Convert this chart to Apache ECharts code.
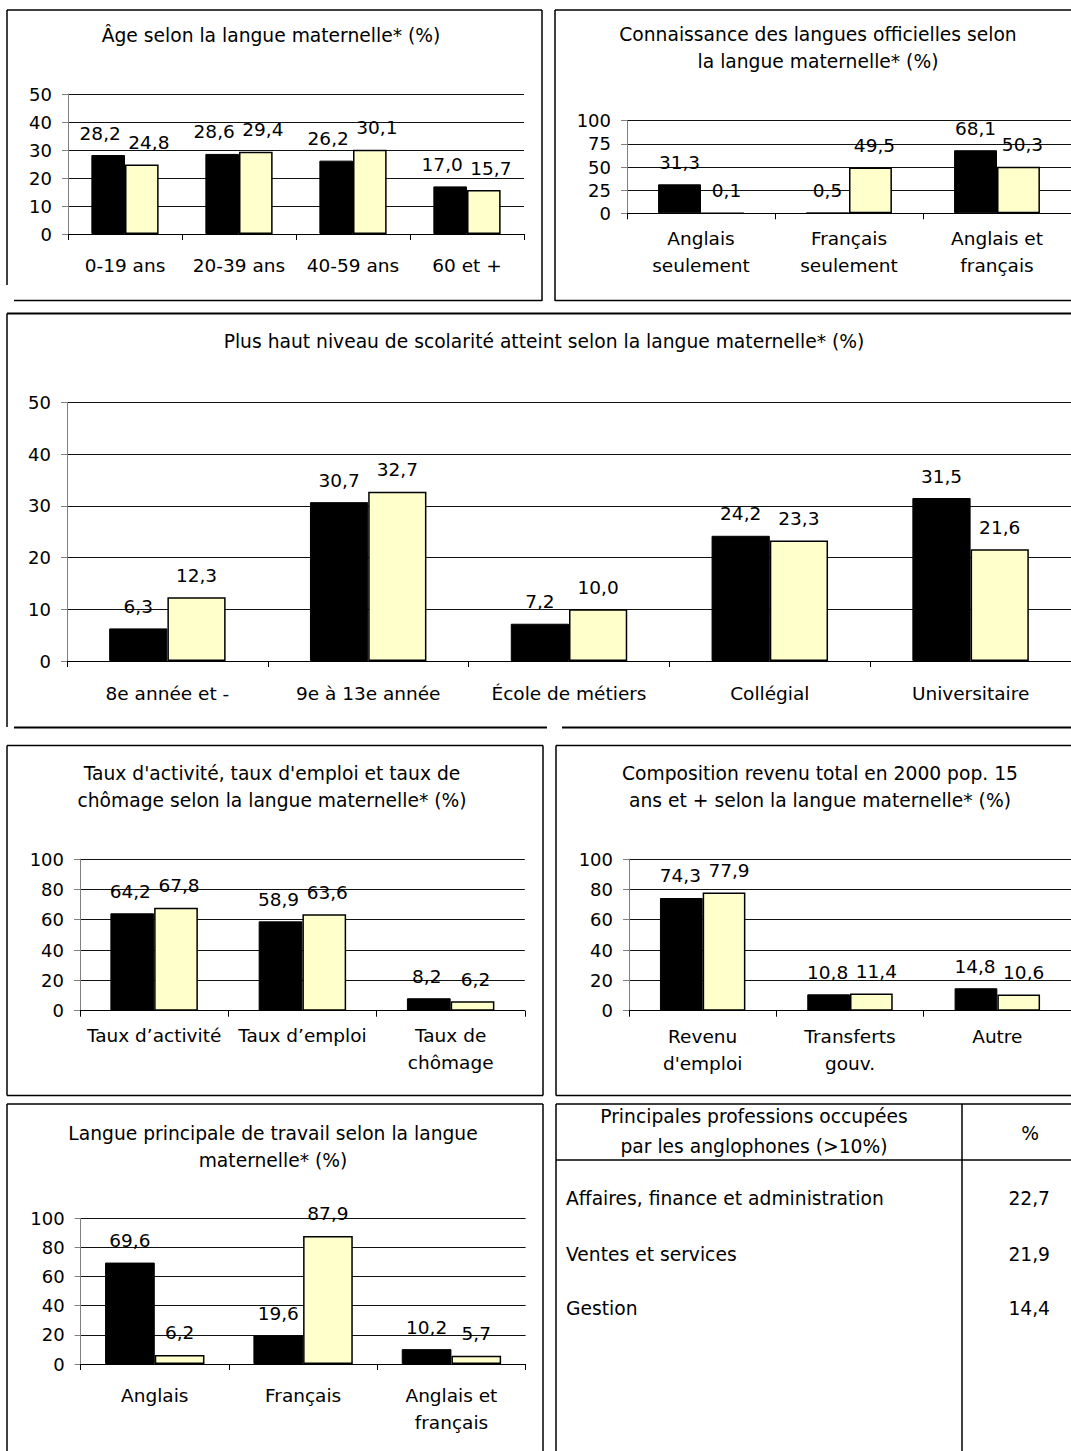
<!DOCTYPE html>
<html>
<head>
<meta charset="utf-8">
<script src="https://cdn.jsdelivr.net/npm/echarts@6/dist/echarts.min.js"></script>
<style>
html,body{margin:0;padding:0;background:#fff;}
#c{width:1071px;height:1451px;}
</style>
</head>
<body>
<div id="c"></div>
<script>
// ---------- DATA ----------
const ageTitle = ['Âge selon la langue maternelle* (%)'];
const ageCategories = ['0-19 ans', '20-39 ans', '40-59 ans', '60 et +'];
const ageAnglo = [28.2, 28.6, 26.2, 17.0];
const ageFranco = [24.8, 29.4, 30.1, 15.7];

const knowTitle = ['Connaissance des langues officielles selon', 'la langue maternelle* (%)'];
const knowCategories = ['Anglais\nseulement', 'Français\nseulement', 'Anglais et\nfrançais'];
const knowAnglo = [31.3, 0.5, 68.1];
const knowFranco = [0.1, 49.5, 50.3];

const eduTitle = ['Plus haut niveau de scolarité atteint selon la langue maternelle* (%)'];
const eduCategories = ['8e année et -', '9e à 13e année', 'École de métiers', 'Collégial', 'Universitaire'];
const eduAnglo = [6.3, 30.7, 7.2, 24.2, 31.5];
const eduFranco = [12.3, 32.7, 10.0, 23.3, 21.6];

const actTitle = ["Taux d'activité, taux d'emploi et taux de", "chômage selon la langue maternelle* (%)"];
const actCategories = ['Taux d’activité', 'Taux d’emploi', 'Taux de\nchômage'];
const actAnglo = [64.2, 58.9, 8.2];
const actFranco = [67.8, 63.6, 6.2];

const incTitle = ['Composition revenu total en 2000 pop. 15', 'ans et + selon la langue maternelle* (%)'];
const incCategories = ["Revenu\nd'emploi", 'Transferts\ngouv.', 'Autre'];
const incAnglo = [74.3, 10.8, 14.8];
const incFranco = [77.9, 11.4, 10.6];

const workTitle = ['Langue principale de travail selon la langue', 'maternelle* (%)'];
const workCategories = ['Anglais', 'Français', 'Anglais et\nfrançais'];
const workAnglo = [69.6, 19.6, 10.2];
const workFranco = [6.2, 87.9, 5.7];

const tableHeader = ['Principales professions occupées\npar les anglophones (>10%)', '%'];
const tableRows = ['Affaires, finance et administration', 'Ventes et services', 'Gestion'];
const tableValues = [22.7, 21.9, 14.4];

// ---------- LAYOUT ----------
const FONT = '"DejaVu Sans", sans-serif';
const fmt = v => v.toFixed(1).replace('.', ',');

const panels = [
  {title: ageTitle, tx: 271, ty: 35.5, cats: ageCategories, a: ageAnglo, f: ageFranco, max: 50, interval: 10,
   grid: {left: 68, top: 94, width: 456, height: 140}, gap: '41%', margin: 17.5, off: [-8, 7]},
  {title: knowTitle, tx: 818, ty: 48.3, cats: knowCategories, a: knowAnglo, f: knowFranco, max: 100, interval: 25,
   grid: {left: 627, top: 120.7, width: 444, height: 92.6}, gap: '42%', margin: 11.5, off: [0, 4]},
  {title: eduTitle, tx: 544, ty: 341.7, cats: eduCategories, a: eduAnglo, f: eduFranco, max: 50, interval: 10,
   grid: {left: 67, top: 402.3, width: 1004, height: 258.7}, gap: '42%', margin: 18.8, off: [0, 0]},
  {title: actTitle, tx: 272, ty: 786.7, cats: actCategories, a: actAnglo, f: actFranco, max: 100, interval: 20,
   grid: {left: 80, top: 859, width: 444.8, height: 151.7}, gap: '41%', margin: 10.8, off: [-2, 3]},
  {title: incTitle, tx: 820, ty: 786.7, cats: incCategories, a: incAnglo, f: incFranco, max: 100, interval: 20,
   grid: {left: 629, top: 859, width: 442, height: 151.7}, gap: '42%', margin: 12.5, off: [-1, 5]},
  {title: workTitle, tx: 273, ty: 1146.7, cats: workCategories, a: workAnglo, f: workFranco, max: 100, interval: 20,
   grid: {left: 80.6, top: 1218.3, width: 445, height: 145.7}, gap: '33%', margin: 17.5, off: [0, 0]}
];

const grids = [], xAxes = [], yAxes = [], series = [];
panels.forEach((p, i) => {
  grids.push(Object.assign({containLabel: false}, p.grid));
  xAxes.push({
    type: 'category', gridIndex: i, data: p.cats,
    axisLine: {show: true, lineStyle: {color: '#000', width: 1}},
    axisTick: {show: true, length: 6, lineStyle: {color: '#000'}},
    axisLabel: {interval: 0, margin: p.margin, fontSize: 18.5, fontFamily: FONT, color: '#000', lineHeight: 27},
    splitLine: {show: false}
  });
  yAxes.push({
    type: 'value', gridIndex: i, min: 0, max: p.max, interval: p.interval,
    axisLine: {show: true, lineStyle: {color: '#808080', width: 1}},
    axisTick: {show: true, length: 6, lineStyle: {color: '#808080'}},
    axisLabel: {margin: 16, fontSize: 18, fontFamily: FONT, color: '#000'},
    splitLine: {show: true, lineStyle: {color: '#111', width: 1}}
  });
  const lbl = (o) => ({
    show: true, position: 'top', distance: 12, offset: [o, 0],
    formatter: (d) => fmt(d.value), fontSize: 18.5, fontFamily: FONT, color: '#000', lineHeight: 20
  });
  series.push({
    type: 'bar', xAxisIndex: i, yAxisIndex: i, data: p.a, barGap: '0%', barCategoryGap: p.gap,
    itemStyle: {color: '#000', borderColor: '#000', borderWidth: 1},
    label: lbl(p.off[0])
  });
  series.push({
    type: 'bar', xAxisIndex: i, yAxisIndex: i, data: p.f, barGap: '0%', barCategoryGap: p.gap,
    itemStyle: {color: '#FFFFCC', borderColor: '#000', borderWidth: 1.5},
    label: lbl(p.off[1])
  });
});

const graphics = [];
const line = (x1, y1, x2, y2, w) => graphics.push({
  type: 'line', silent: true, shape: {x1, y1, x2, y2}, style: {stroke: '#000', lineWidth: w || 1.5}
});
const text = (x, y, str, align, lh) => graphics.push({
  type: 'text', silent: true, x, y,
  style: {text: str, fill: '#000', fontSize: 18.7, fontFamily: FONT, align: align, textAlign: align,
          verticalAlign: 'middle', textVerticalAlign: 'middle', lineHeight: lh || 26.7}
});

// panel borders
line(7, 10, 542, 10); line(7, 10, 7, 285); line(542, 10, 542, 301); line(14, 300.5, 542, 300.5);
line(555, 10, 1071, 10); line(555, 10, 555, 301); line(555, 300.5, 1071, 300.5);
line(7, 313.5, 1071, 313.5, 2); line(7, 313.5, 7, 727); line(14, 727.5, 547, 727.5, 2); line(562, 727.5, 1071, 727.5, 2);
line(7, 745.5, 543, 745.5); line(7, 745.5, 7, 1095.5); line(543, 745.5, 543, 1095.5); line(7, 1095.5, 543, 1095.5);
line(556, 745.5, 1071, 745.5); line(556, 745.5, 556, 1095.5); line(556, 1095.5, 1071, 1095.5);
line(7, 1104, 543, 1104); line(7, 1104, 7, 1451); line(543, 1104, 543, 1451);
// table
line(556, 1104, 1071, 1104); line(556, 1104, 556, 1451); line(962, 1104, 962, 1451); line(556, 1160, 1071, 1160);

// titles
panels.forEach(p => text(p.tx, p.ty, p.title.join('\n'), 'center'));

// table text
text(754, 1131.7, tableHeader[0], 'center', 30);
text(1030, 1133.3, tableHeader[1], 'center');
const rowY = [1198.3, 1254, 1308.3];
tableRows.forEach((r, i) => {
  text(566, rowY[i], r, 'left');
  text(1050, rowY[i], fmt(tableValues[i]), 'right');
});

const chart = echarts.init(document.getElementById('c'), null, {renderer: 'svg'});
chart.setOption({
  animation: false,
  backgroundColor: '#fff',
  grid: grids, xAxis: xAxes, yAxis: yAxes, series: series,
  graphic: {elements: graphics}
});
</script>
</body>
</html>
